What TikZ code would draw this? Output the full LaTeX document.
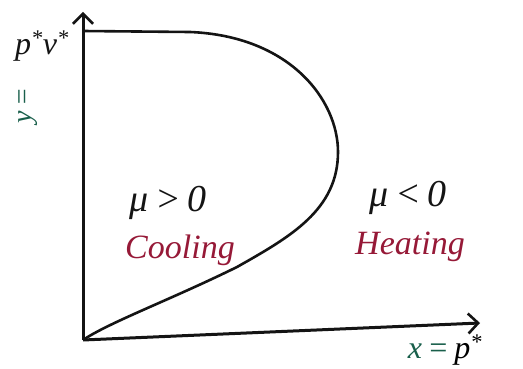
\documentclass[tikz,border=0pt]{standalone}
\usepackage{fontspec}
\setmainfont{Liberation Serif}
\usetikzlibrary{arrows.meta}
\definecolor{inkred}{RGB}{150,25,55}
\definecolor{inkgreen}{RGB}{25,95,75}
\definecolor{inkblack}{RGB}{20,20,20}
\tikzset{
  axis/.style={draw=inkblack, line width=3pt, -{Straight Barb[length=10pt,width=20pt,line width=2.6pt]}},
  curve/.style={draw=inkblack, line width=2.6pt},
  lab/.style={inkblack, font=\fontsize{38}{40}\selectfont\itshape, inner sep=0pt},
  redlab/.style={inkred, font=\fontsize{34}{36}\selectfont\itshape, inner sep=0pt},
}
\begin{document}
\begin{tikzpicture}[x=1pt,y=-1pt]
\useasboundingbox (0,0) rectangle (523,369);
\coordinate (O) at (83,340);
\coordinate (Yt) at (83,12);
\coordinate (Xt) at (480,323);
\draw[axis] (O) -- (Yt);
\draw[axis] (O) -- (Xt);
\coordinate (top) at (83,31);
\coordinate (right) at (338,152);
\draw[curve] (top) -- (190,32) .. controls (290,36) and (338,100) .. (right)
  .. controls (338,210) and (290,237) .. (237,267)
  .. controls (170,300) and (110,322) .. (O);
\node[lab] (mup) at (168,203) {μ\,>\,0};
\node[redlab] (cool) at (180,250) {Cooling};
\node[lab] (mun) at (408,198) {μ\,<\,0};
\node[redlab] (heat) at (410,247) {Heating};
\node[lab, font=\fontsize{32}{34}\selectfont\itshape] (pv) at (42,46) {p\textsuperscript{*}v\textsuperscript{*}};
\node[inkgreen, font=\fontsize{28}{30}\selectfont\itshape, rotate=90, inner sep=0pt] (yeq) at (28,106) {y\,=};
\node[font=\fontsize{32}{34}\selectfont\itshape, inner sep=0pt] (xeq) at (445,350) {\textcolor{inkgreen}{x\,=\,}p\textsuperscript{*}};
\end{tikzpicture}
\end{document}
